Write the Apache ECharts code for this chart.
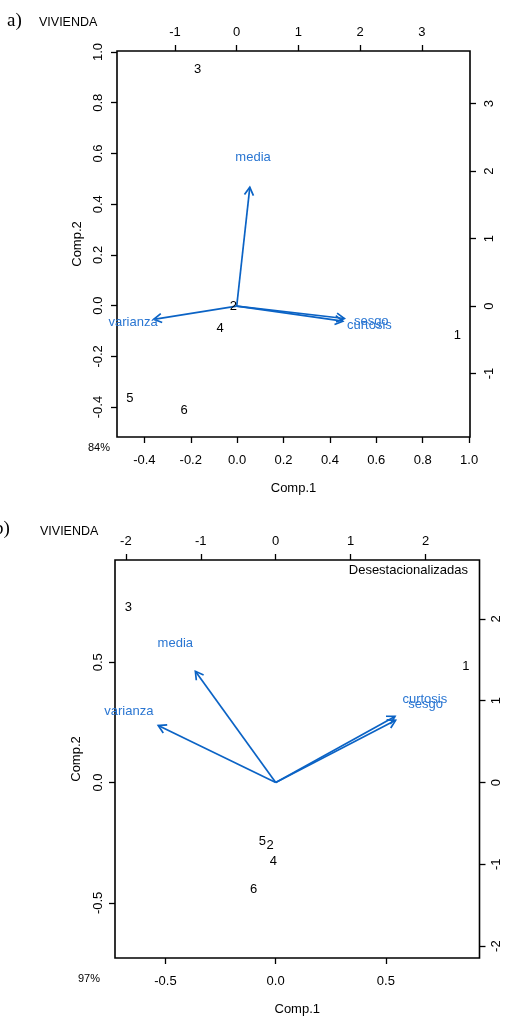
<!DOCTYPE html>
<html><head><meta charset="utf-8">
<script src="https://cdn.jsdelivr.net/npm/echarts@6/dist/echarts.min.js"></script>
<style>html,body{margin:0;padding:0;background:#fff}#c{width:507px;height:1019px}</style>
</head><body><div id="c"></div>
<script>
// ---------- data ----------
const obsLabels = ['1', '2', '3', '4', '5', '6'];
const varLabels = ['media', 'varianza', 'sesgo', 'curtosis'];

// a) scores (Comp.1 / Comp.2, bottom/left axes)
const scoreA1 = [0.949, -0.016, -0.170, -0.073, -0.462, -0.229];
const scoreA2 = [-0.116, -0.004, 0.932, -0.089, -0.366, -0.415];
// a) loadings (top/right axes)
const loadA1 = [0.265, -1.68, 2.18, 2.15];
const loadA2 = [2.20, -0.245, -0.23, -0.28];

// b) scores
const scoreB1 = [0.863, -0.025, -0.668, -0.010, -0.060, -0.100];
const scoreB2 = [0.484, -0.263, 0.729, -0.329, -0.245, -0.442];
// b) loadings
const loadB1 = [-1.34, -1.96, 2.00, 1.99];
const loadB2 = [1.70, 0.87, 0.95, 1.01];

// tick values
const ticksA_bottom = [-0.4, -0.2, 0.0, 0.2, 0.4, 0.6, 0.8, 1.0];
const ticksA_left = [-0.4, -0.2, 0.0, 0.2, 0.4, 0.6, 0.8, 1.0];
const ticksA_top = [-1, 0, 1, 2, 3];
const ticksA_right = [-1, 0, 1, 2, 3];
const ticksB_bottom = [-0.5, 0.0, 0.5];
const ticksB_left = [-0.5, 0.0, 0.5];
const ticksB_top = [-2, -1, 0, 1, 2];
const ticksB_right = [-2, -1, 0, 1, 2];

// ---------- style ----------
const FONT = 'Liberation Sans, Arial, sans-serif';
const ARROW_COLOR = '#0b63c5';
const VAR_TEXT = '#2a76d2';
const ARROW_SCALE = 0.8; // R biplot draws arrows to 0.8 of the loading

const chart = echarts.init(document.getElementById('c'), null, {renderer: 'canvas'});

function axis(pos, gridIndex, min, max, ticks, decimals, margin, extra) {
  const vertical = pos === 'left' || pos === 'right';
  return Object.assign({
    type: 'value', gridIndex, position: pos, min, max,
    splitLine: {show: false},
    axisLine: {show: false, onZero: false},
    axisTick: {show: true, length: 6, customValues: ticks, lineStyle: {color: '#000', width: 1.3}},
    axisLabel: {
      customValues: ticks, color: '#000', fontSize: 13, fontFamily: FONT, margin,
      rotate: vertical ? 90 : 0,
      formatter: v => Number(v).toFixed(decimals)
    }
  }, extra || {});
}

function pairs(a, b) { return a.map((v, i) => [v, b[i]]); }

function textSeries(xi, yi, data, labels, color) {
  return {
    type: 'custom', xAxisIndex: xi, yAxisIndex: yi, data, clip: false, silent: true,
    renderItem: (params, api) => {
      const p = api.coord([api.value(0), api.value(1)]);
      return {type: 'text', x: p[0], y: p[1], style: {
        text: labels[params.dataIndex], fill: color, font: '13px ' + FONT,
        align: 'center', verticalAlign: 'middle'}};
    }
  };
}

function arrowSeries(xi, yi, data) {
  return {
    type: 'custom', xAxisIndex: xi, yAxisIndex: yi, data, clip: false, silent: true,
    renderItem: (params, api) => {
      const p0 = api.coord([0, 0]);
      const p1 = api.coord([api.value(0) * ARROW_SCALE, api.value(1) * ARROW_SCALE]);
      const ang = Math.atan2(p1[1] - p0[1], p1[0] - p0[0]);
      const L = 9, a = Math.PI / 6;
      const h1 = [p1[0] - L * Math.cos(ang - a), p1[1] - L * Math.sin(ang - a)];
      const h2 = [p1[0] - L * Math.cos(ang + a), p1[1] - L * Math.sin(ang + a)];
      return {type: 'group', children: [
        {type: 'line', shape: {x1: p0[0], y1: p0[1], x2: p1[0], y2: p1[1]},
         style: {stroke: ARROW_COLOR, lineWidth: 1.7}},
        {type: 'polyline', shape: {points: [h1, p1, h2]},
         style: {stroke: ARROW_COLOR, lineWidth: 1.7, fill: null}}
      ]};
    }
  };
}

const nameStyle = {color: '#000', fontSize: 13, fontFamily: FONT};

const option = {
  animation: false,
  backgroundColor: '#fff',
  grid: [
    {left: 117, top: 51, width: 353, height: 386, show: true, borderColor: '#000', borderWidth: 1.6},
    {left: 115, top: 560, width: 364.5, height: 398, show: true, borderColor: '#000', borderWidth: 1.6}
  ],
  xAxis: [
    axis('bottom', 0, -0.518, 1.004, ticksA_bottom, 1, 17,
      {name: 'Comp.1', nameLocation: 'middle', nameGap: 45, nameTextStyle: nameStyle}),
    axis('top', 0, -1.94, 3.78, ticksA_top, 0, 12),
    axis('bottom', 1, -0.729, 0.925, ticksB_bottom, 1, 17,
      {name: 'Comp.1', nameLocation: 'middle', nameGap: 45, nameTextStyle: nameStyle}),
    axis('top', 1, -2.145, 2.72, ticksB_top, 0, 12)
  ],
  yAxis: [
    axis('left', 0, -0.518, 1.004, ticksA_left, 1, 12,
      {name: 'Comp.2', nameLocation: 'middle', nameGap: 32, nameTextStyle: nameStyle}),
    axis('right', 0, -1.94, 3.78, ticksA_right, 0, 13),
    axis('left', 1, -0.729, 0.925, ticksB_left, 1, 10,
      {name: 'Comp.2', nameLocation: 'middle', nameGap: 32, nameTextStyle: nameStyle}),
    axis('right', 1, -2.145, 2.72, ticksB_right, 0, 10)
  ],
  series: [
    arrowSeries(1, 1, pairs(loadA1, loadA2)),
    textSeries(1, 1, pairs(loadA1, loadA2), varLabels, VAR_TEXT),
    textSeries(0, 0, pairs(scoreA1, scoreA2), obsLabels, '#000'),
    arrowSeries(3, 3, pairs(loadB1, loadB2)),
    textSeries(3, 3, pairs(loadB1, loadB2), varLabels, VAR_TEXT),
    textSeries(2, 2, pairs(scoreB1, scoreB2), obsLabels, '#000')
  ],
  graphic: [
    {type: 'text', left: 7, top: 12, style: {text: 'a)', font: '19px Liberation Serif, Times New Roman, serif', fill: '#000'}},
    {type: 'text', left: 39, top: 16, style: {text: 'VIVIENDA', font: '12.5px ' + FONT, fill: '#000'}},
    {type: 'text', left: -6, top: 520, style: {text: 'b)', font: '19px Liberation Serif, Times New Roman, serif', fill: '#000'}},
    {type: 'text', left: 40, top: 525, style: {text: 'VIVIENDA', font: '12.5px ' + FONT, fill: '#000'}},
    {type: 'text', left: 88, top: 442, style: {text: '84%', font: '11px ' + FONT, fill: '#000'}},
    {type: 'text', left: 78, top: 973, style: {text: '97%', font: '11px ' + FONT, fill: '#000'}},
    {type: 'text', right: 39, top: 564, style: {text: 'Desestacionalizadas', font: '13px ' + FONT, fill: '#000'}}
  ]
};
chart.setOption(option);
</script></body></html>
